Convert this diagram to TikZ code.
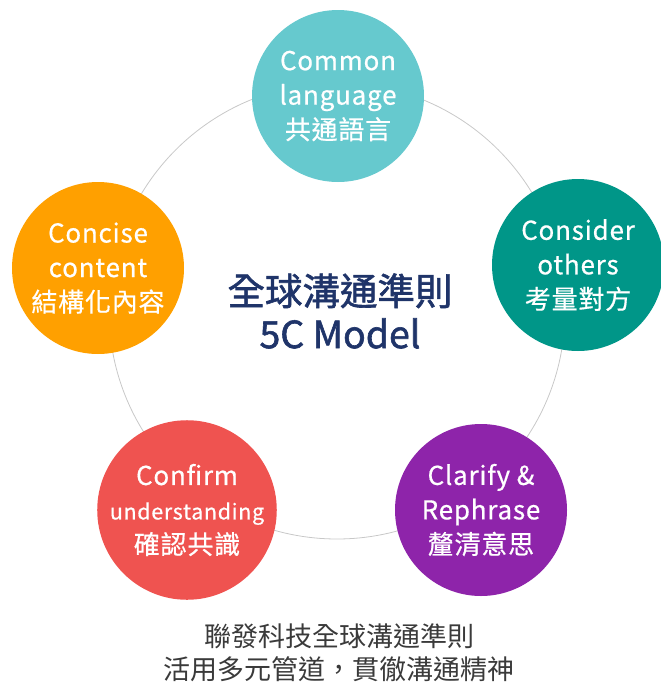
\documentclass[tikz,border=0pt]{standalone}
\usepackage{fontspec}
\setmainfont{Noto Sans CJK TC}

\definecolor{commoncol}{HTML}{66C9CE}
\definecolor{considercol}{HTML}{009688}
\definecolor{clarifycol}{HTML}{8E24AA}
\definecolor{confirmcol}{HTML}{EF5350}
\definecolor{concisecol}{HTML}{FFA000}
\definecolor{titlecol}{HTML}{1F3469}
\definecolor{ringcol}{HTML}{C8C8C8}
\definecolor{slogancol}{HTML}{3A3A3A}

\tikzset{
	bubble/.style = {circle, fill = #1, minimum size = 172pt, inner sep = 0pt, align = center, text = white, font = \fontsize{26}{34.5}\selectfont\addfontfeatures{LetterSpace = 3, FakeBold = 0.6}},
	ring/.style = {draw = ringcol, line width = 0.8pt}
}

\begin{document}
\begin{tikzpicture}[x = 1pt, y = -1pt]

\useasboundingbox (0, 0) rectangle (661, 688);

\coordinate (hub) at (337, 311);
\draw [ring] (hub) circle (228pt);

\node [bubble = commoncol] (common) at (338, 96) {Common\\language\\共通語言};
\node [bubble = considercol] (consider) at (578, 265) {Consider\\others\\考量對方};
\node [bubble = clarifycol] (clarify) at (481, 510) {Clarify \&\\Rephrase\\釐清意思};
\node [bubble = confirmcol] (confirm) at (187, 510) {Confirm\\{\fontsize{21.5}{34.5}\selectfont understanding}\\確認共識};
\node [bubble = concisecol] (concise) at (98, 268) {Concise\\content\\結構化內容};

\node [align = center, text = titlecol, font = \fontsize{37.5}{43}\selectfont\addfontfeatures{FakeBold = 1.6}] (model) at (340, 311) {全球溝通準則\\5C Model};

\node [align = center, text = slogancol, font = \fontsize{27}{33}\selectfont] (slogan) at (339, 653) {聯發科技全球溝通準則\\活用多元管道，貫徹溝通精神};

\end{tikzpicture}
\end{document}
